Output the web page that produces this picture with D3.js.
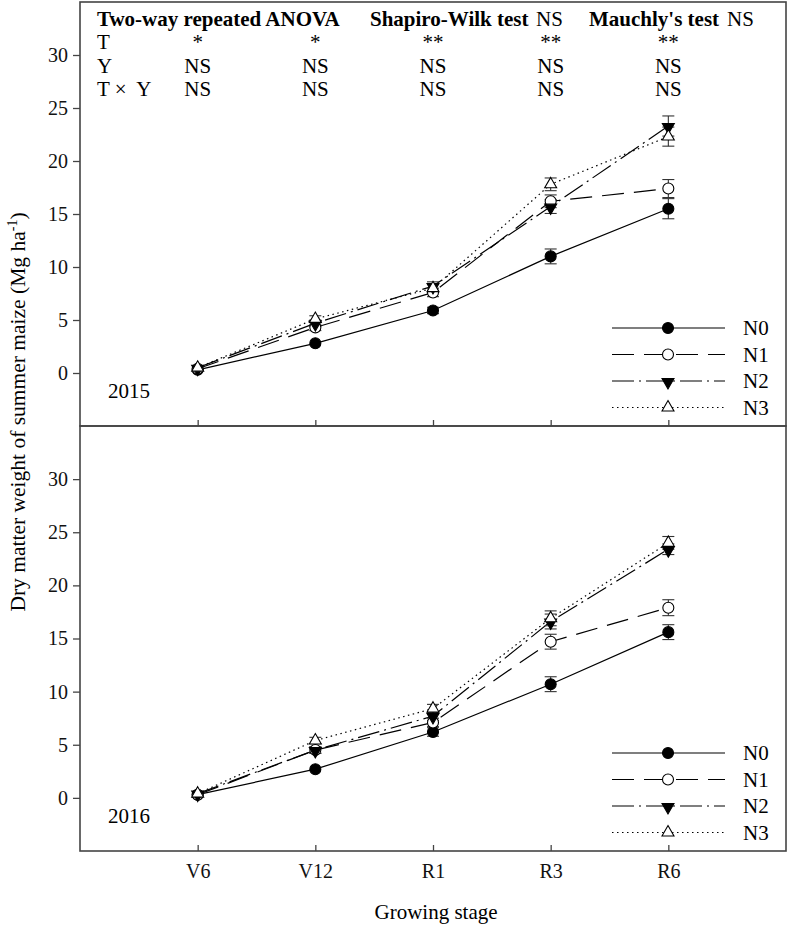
<!DOCTYPE html>
<html><head><meta charset="utf-8">
<script src="https://cdn.jsdelivr.net/npm/d3@7"></script>
<style>body{margin:0;background:#fff;} text{font-family:"Liberation Serif","Times New Roman",serif;}</style>
</head><body>
<svg id="c" width="790" height="930"></svg>
<script>
const stages = ["V6","V12","R1","R3","R6"];
const treatments = ["N0","N1","N2","N3"];
const yTicks = [0,5,10,15,20,25,30];
const years = ["2015","2016"];

const n0_2015 = [0.3, 2.8, 5.9, 11.0, 15.5];
const n1_2015 = [0.4, 4.3, 7.6, 16.2, 17.4];
const n2_2015 = [0.5, 4.7, 8.2, 15.7, 23.3];
const n3_2015 = [0.5, 5.1, 8.0, 17.8, 22.3];
const n0_2015_se = [0.1, 0.2, 0.3, 0.7, 0.95];
const n1_2015_se = [0.1, 0.3, 0.4, 0.6, 0.85];
const n2_2015_se = [0.1, 0.3, 0.4, 0.65, 0.95];
const n3_2015_se = [0.1, 0.3, 0.4, 0.6, 0.9];

const n0_2016 = [0.3, 2.7, 6.2, 10.7, 15.6];
const n1_2016 = [0.3, 4.5, 7.1, 14.7, 17.9];
const n2_2016 = [0.4, 4.5, 7.7, 16.6, 23.4];
const n3_2016 = [0.4, 5.4, 8.4, 16.9, 24.0];
const n0_2016_se = [0.1, 0.2, 0.4, 0.7, 0.7];
const n1_2016_se = [0.1, 0.3, 0.4, 0.7, 0.75];
const n2_2016_se = [0.1, 0.3, 0.4, 0.7, 0.5];
const n3_2016_se = [0.1, 0.3, 0.4, 0.7, 0.6];

const headerRowLabels = ["T","Y","T ×  Y"];
const rowT = ["*","*","**","**","**"];
const rowY = ["NS","NS","NS","NS","NS"];
const rowTY = ["NS","NS","NS","NS","NS"];

const panels = [
  {year:years[0], series:[n0_2015,n1_2015,n2_2015,n3_2015], se:[n0_2015_se,n1_2015_se,n2_2015_se,n3_2015_se]},
  {year:years[1], series:[n0_2016,n1_2016,n2_2016,n3_2016], se:[n0_2016_se,n1_2016_se,n2_2016_se,n3_2016_se]}
];

const svg = d3.select("#c");
const L = 80, R = 786;
const panelBounds = [[2,426],[426,851]];
const x = d3.scaleLinear().domain([0,6]).range([L,R]);
const styles = [
  {dash:null, fill:"#000", sym:"circle"},
  {dash:"22,10", fill:"#fff", sym:"circle"},
  {dash:"22,5,2,5", fill:"#000", sym:"down"},
  {dash:"1.5,3.5", fill:"#fff", sym:"up"}
];
const frameColor = "#444";

function drawMarker(g, sym, fill, cx, cy){
  if(sym==="circle"){
    g.append("circle").attr("cx",cx).attr("cy",cy).attr("r",5.5)
      .attr("fill",fill).attr("stroke","#000").attr("stroke-width",1.1);
  } else {
    const p = d3.symbol().type(d3.symbolTriangle).size(62)();
    g.append("path").attr("d",p)
      .attr("transform",`translate(${cx},${cy + (sym==="down"?1:0)}) rotate(${sym==="down"?180:0})`)
      .attr("fill",fill).attr("stroke","#000").attr("stroke-width",1.1);
  }
}

panels.forEach((pn,pi)=>{
  const [top,bot] = panelBounds[pi];
  const y = d3.scaleLinear().domain([-5,35]).range([bot,top]);
  const g = svg.append("g");
  const ya = d3.axisLeft(y).tickValues(yTicks).tickSize(7).tickPadding(5).tickFormat(d3.format("d"));
  const yg = g.append("g").attr("transform",`translate(${L},0)`).call(ya);
  yg.select(".domain").remove();
  yg.selectAll("line").attr("stroke",frameColor).attr("stroke-width",1.3);
  yg.selectAll("text").attr("font-size","20px").attr("font-family","Liberation Serif").attr("fill","#111");
  const xa = d3.axisBottom(x).tickValues([1,2,3,4,5]).tickSize(-6).tickFormat(i=>stages[i-1]).tickPadding(13);
  const xg = g.append("g").attr("transform",`translate(0,${bot})`).call(xa);
  xg.select(".domain").remove();
  xg.selectAll("line").attr("stroke",frameColor).attr("stroke-width",1.3);
  xg.selectAll("text").attr("font-size","20px").attr("font-family","Liberation Serif").attr("fill","#111");
  if(pi===0) xg.selectAll("text").remove();

  pn.series.forEach((s,si)=>{
    const line = d3.line().x((d,i)=>x(i+1)).y(d=>y(d));
    const path = g.append("path").datum(s).attr("d",line).attr("fill","none")
      .attr("stroke","#000").attr("stroke-width",1.2);
    if(styles[si].dash) path.attr("stroke-dasharray",styles[si].dash);
  });
  pn.series.forEach((s,si)=>{
    s.forEach((v,i)=>{
      const e = pn.se[si][i];
      const cx = x(i+1);
      if(e < 0.25) return;
      g.append("line").attr("x1",cx).attr("x2",cx).attr("y1",y(v-e)).attr("y2",y(v+e))
        .attr("stroke","#333").attr("stroke-width",1.1);
      [v-e,v+e].forEach(yy=>{
        g.append("line").attr("x1",cx-6).attr("x2",cx+6).attr("y1",y(yy)).attr("y2",y(yy))
          .attr("stroke","#333").attr("stroke-width",1.1);
      });
    });
  });
  pn.series.forEach((s,si)=>{
    s.forEach((v,i)=>drawMarker(g, styles[si].sym, styles[si].fill, x(i+1), y(v)));
  });
  const legY0 = y(-5) - 98;
  treatments.forEach((t,ti)=>{
    const ly = legY0 + ti*26.5;
    const ln = g.append("line").attr("x1",612).attr("x2",725).attr("y1",ly).attr("y2",ly)
      .attr("stroke","#000").attr("stroke-width",1.2);
    if(styles[ti].dash) ln.attr("stroke-dasharray",styles[ti].dash);
    drawMarker(g, styles[ti].sym, styles[ti].fill, 668, ly);
    g.append("text").attr("x",743).attr("y",ly+7).attr("font-size","21px").text(t);
  });
  g.append("text").attr("x",108).attr("y",y(0)+25).attr("font-size","21px").text(pn.year);
  g.append("rect").attr("x",L).attr("y",top).attr("width",R-L).attr("height",bot-top)
    .attr("fill","none").attr("stroke",frameColor).attr("stroke-width",1.6);
});

const hdr = svg.append("g");
hdr.append("text").attr("x",97).attr("y",26).attr("font-size","21px").attr("font-weight","bold").text("Two-way repeated ANOVA");
hdr.append("text").attr("x",370).attr("y",26).attr("font-size","21px").attr("font-weight","bold").text("Shapiro-Wilk test");
hdr.append("text").attr("x",536).attr("y",26).attr("font-size","21px").text("NS");
hdr.append("text").attr("x",589).attr("y",26).attr("font-size","21px").attr("font-weight","bold").text("Mauchly's test");
hdr.append("text").attr("x",727).attr("y",26).attr("font-size","21px").text("NS");
const rows = [rowT,rowY,rowTY];
rows.forEach((row,ri)=>{
  const yy = 49 + ri*23.5;
  hdr.append("text").attr("x",97).attr("y",yy).attr("font-size","21px")
    .style("white-space","pre").text(headerRowLabels[ri]);
  row.forEach((v,i)=>{
    hdr.append("text").attr("x",x(i+1)).attr("y",yy).attr("text-anchor","middle")
      .attr("font-size","21px").text(v);
  });
});

svg.append("text").attr("x",436).attr("y",919).attr("text-anchor","middle").attr("font-size","21px").text("Growing stage");
const yt = svg.append("text").attr("transform","translate(25,412) rotate(-90)").attr("text-anchor","middle").attr("font-size","21.5px");
yt.append("tspan").text("Dry matter weight of summer maize (Mg ha");
yt.append("tspan").attr("dy",-8).attr("font-size","14px").text("-1");
yt.append("tspan").attr("dy",8).text(")");
</script>
</body></html>
